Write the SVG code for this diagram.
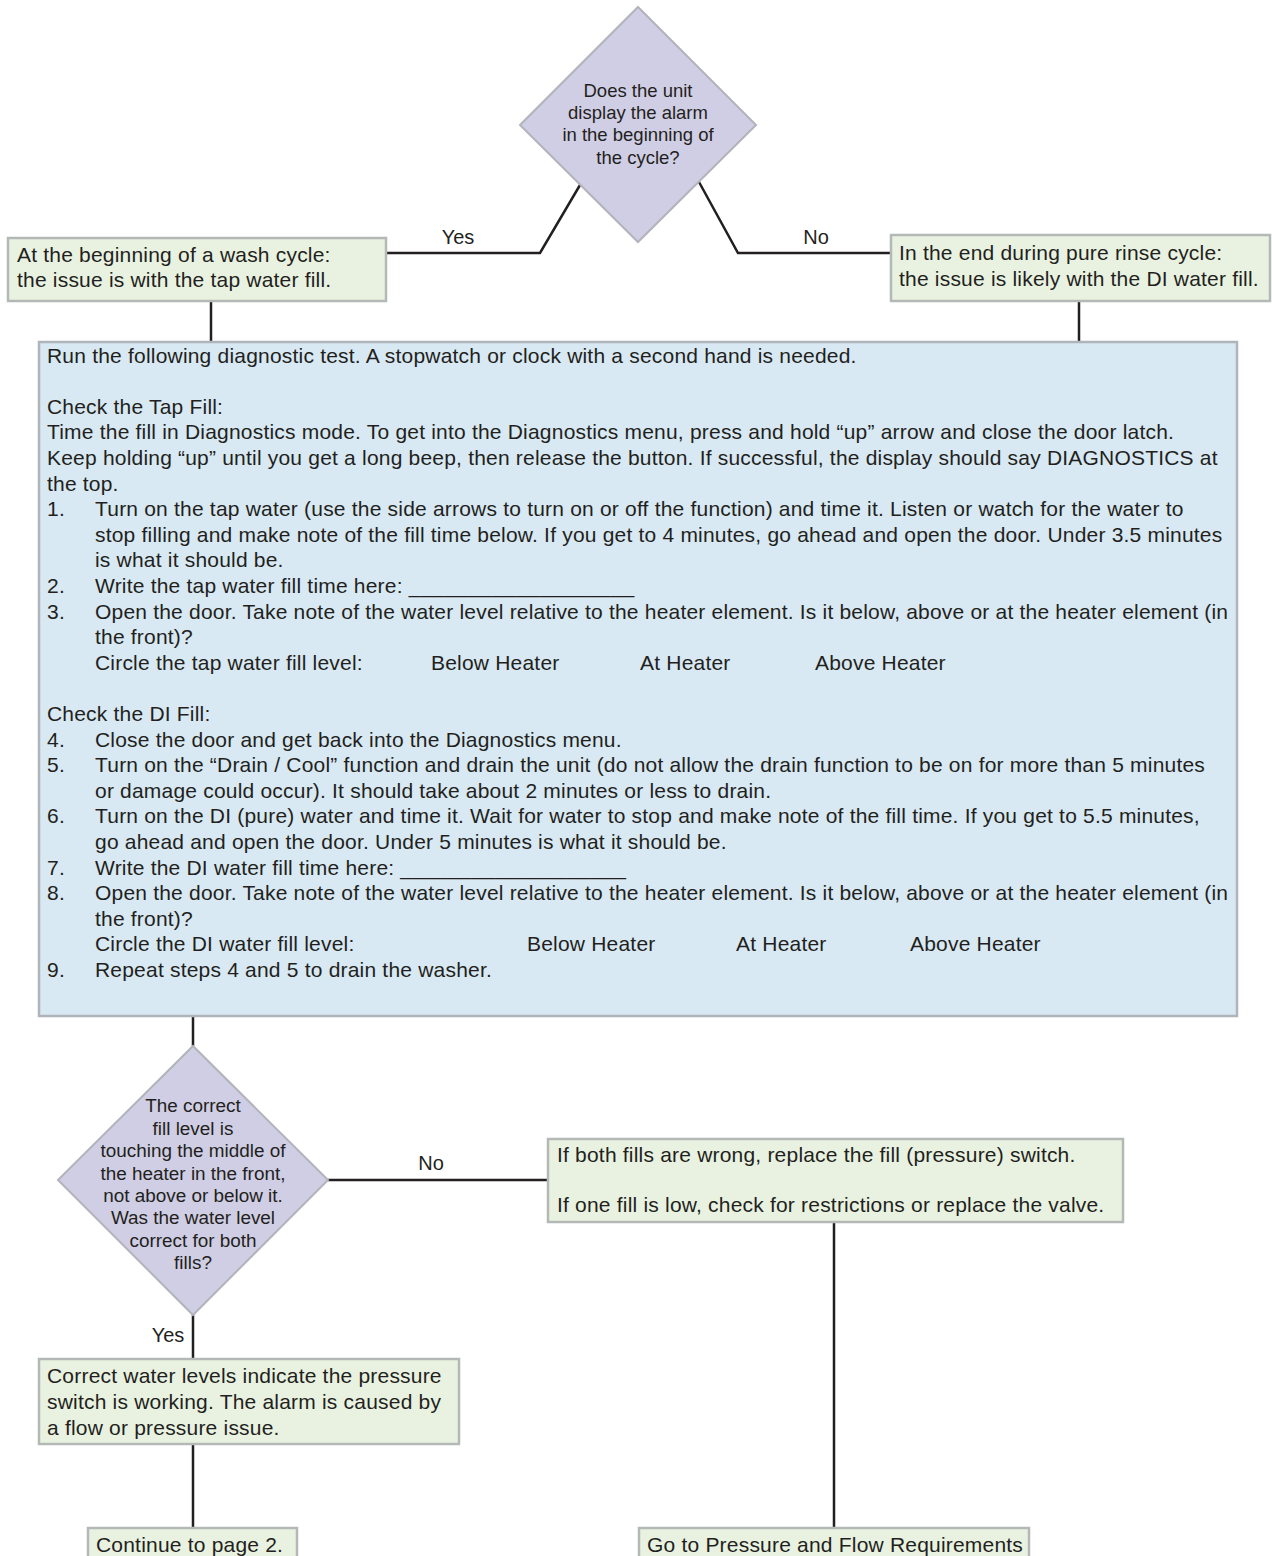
<svg xmlns="http://www.w3.org/2000/svg" width="1272" height="1556" viewBox="0 0 1272 1556">
<style>
.t{font-family:"Liberation Sans",Arial,Helvetica,sans-serif;font-size:21px;letter-spacing:0.2px;fill:#231f20}
.d{font-family:"Liberation Sans",Arial,Helvetica,sans-serif;font-size:18.5px;fill:#231f20;text-anchor:middle}
.d2{font-family:"Liberation Sans",Arial,Helvetica,sans-serif;font-size:18.9px;fill:#231f20;text-anchor:middle}
.lbl{font-family:"Liberation Sans",Arial,Helvetica,sans-serif;font-size:20px;fill:#231f20;text-anchor:middle}
.g{fill:#e9f2e1;stroke:#b4b8b6;stroke-width:2.5}
.b{fill:#d8e9f3;stroke:#b0b4bb;stroke-width:2.5}
.dm{fill:#d0cee4;stroke:#b3b3bb;stroke-width:2}
.c{fill:none;stroke:#231f20;stroke-width:2.5}
</style>
<rect width="1272" height="1556" fill="#ffffff"/>
<g id="connectors">
<polyline class="c" points="386,253 540,253 580,185"/>
<polyline class="c" points="699,182 738,253 891,253"/>
<line class="c" x1="211" y1="301" x2="211" y2="342"/>
<line class="c" x1="1079" y1="301" x2="1079" y2="342"/>
<line class="c" x1="193" y1="1016" x2="193" y2="1046"/>
<line class="c" x1="328" y1="1180" x2="548" y2="1180"/>
<line class="c" x1="193" y1="1315" x2="193" y2="1359"/>
<line class="c" x1="193" y1="1444" x2="193" y2="1528"/>
<line class="c" x1="834" y1="1222" x2="834" y2="1528"/>
<text class="lbl" x="458" y="244">Yes</text>
<text class="lbl" x="816" y="244">No</text>
<text class="lbl" x="431" y="1170">No</text>
<text class="lbl" x="168" y="1342">Yes</text>
</g>
<g id="q1">
<polygon class="dm" points="638,7 756,125 638,242 520,125"/>
<text class="d" x="638" y="96.5">Does the unit</text>
<text class="d" x="638" y="119">display the alarm</text>
<text class="d" x="638" y="141.4">in the beginning of</text>
<text class="d" x="638" y="163.8">the cycle?</text>
</g>
<g id="tap">
<rect class="g" x="8" y="238" width="378" height="63"/>
<text class="t" x="17" y="261.5">At the beginning of a wash cycle:</text>
<text class="t" x="17" y="287">the issue is with the tap water fill.</text>
</g>
<g id="di">
<rect class="g" x="891" y="235" width="379" height="66"/>
<text class="t" x="899" y="260">In the end during pure rinse cycle:</text>
<text class="t" x="899" y="286">the issue is likely with the DI water fill.</text>
</g>
<g id="test">
<rect class="b" x="39" y="342" width="1198" height="674"/>
<text class="t" x="47" y="362.5">Run the following diagnostic test. A stopwatch or clock with a second hand is needed.</text>
<text class="t" x="47" y="413.7">Check the Tap Fill:</text>
<text class="t" x="47" y="439.3">Time the fill in Diagnostics mode. To get into the Diagnostics menu, press and hold “up” arrow and close the door latch.</text>
<text class="t" x="47" y="464.9">Keep holding “up” until you get a long beep, then release the button. If successful, the display should say DIAGNOSTICS at</text>
<text class="t" x="47" y="490.5">the top.</text>
<text class="t" x="47" y="516.1">1.</text>
<text class="t" x="95" y="516.1">Turn on the tap water (use the side arrows to turn on or off the function) and time it. Listen or watch for the water to</text>
<text class="t" x="95" y="541.7">stop filling and make note of the fill time below. If you get to 4 minutes, go ahead and open the door. Under 3.5 minutes</text>
<text class="t" x="95" y="567.3">is what it should be.</text>
<text class="t" x="47" y="592.9">2.</text>
<text class="t" x="95" y="592.9">Write the tap water fill time here: ___________________</text>
<text class="t" x="47" y="618.5">3.</text>
<text class="t" x="95" y="618.5">Open the door. Take note of the water level relative to the heater element. Is it below, above or at the heater element (in</text>
<text class="t" x="95" y="644.1">the front)?</text>
<text class="t" x="95" y="669.7">Circle the tap water fill level:</text>
<text class="t" x="431" y="669.7">Below Heater</text>
<text class="t" x="640" y="669.7">At Heater</text>
<text class="t" x="815" y="669.7">Above Heater</text>
<text class="t" x="47" y="720.9">Check the DI Fill:</text>
<text class="t" x="47" y="746.5">4.</text>
<text class="t" x="95" y="746.5">Close the door and get back into the Diagnostics menu.</text>
<text class="t" x="47" y="772.1">5.</text>
<text class="t" x="95" y="772.1">Turn on the “Drain / Cool” function and drain the unit (do not allow the drain function to be on for more than 5 minutes</text>
<text class="t" x="95" y="797.7">or damage could occur). It should take about 2 minutes or less to drain.</text>
<text class="t" x="47" y="823.3">6.</text>
<text class="t" x="95" y="823.3">Turn on the DI (pure) water and time it. Wait for water to stop and make note of the fill time. If you get to 5.5 minutes,</text>
<text class="t" x="95" y="848.9">go ahead and open the door. Under 5 minutes is what it should be.</text>
<text class="t" x="47" y="874.5">7.</text>
<text class="t" x="95" y="874.5">Write the DI water fill time here: ___________________</text>
<text class="t" x="47" y="900.1">8.</text>
<text class="t" x="95" y="900.1">Open the door. Take note of the water level relative to the heater element. Is it below, above or at the heater element (in</text>
<text class="t" x="95" y="925.7">the front)?</text>
<text class="t" x="95" y="951.3">Circle the DI water fill level:</text>
<text class="t" x="527" y="951.3">Below Heater</text>
<text class="t" x="736" y="951.3">At Heater</text>
<text class="t" x="910" y="951.3">Above Heater</text>
<text class="t" x="47" y="976.9">9.</text>
<text class="t" x="95" y="976.9">Repeat steps 4 and 5 to drain the washer.</text>
</g>
<g id="q2">
<polygon class="dm" points="193,1046 328,1180 193,1315 58,1180"/>
<text class="d2" x="193" y="1112.3">The correct</text>
<text class="d2" x="193" y="1134.7">fill level is</text>
<text class="d2" x="193" y="1157.1">touching the middle of</text>
<text class="d2" x="193" y="1179.5">the heater in the front,</text>
<text class="d2" x="193" y="1201.9">not above or below it.</text>
<text class="d2" x="193" y="1224.3">Was the water level</text>
<text class="d2" x="193" y="1246.7">correct for both</text>
<text class="d2" x="193" y="1269.1">fills?</text>
</g>
<g id="fix">
<rect class="g" x="548" y="1139" width="575" height="83"/>
<text class="t" x="557" y="1162">If both fills are wrong, replace the fill (pressure) switch.</text>
<text class="t" x="557" y="1212">If one fill is low, check for restrictions or replace the valve.</text>
</g>
<g id="ok">
<rect class="g" x="39" y="1359" width="420" height="85"/>
<text class="t" x="47" y="1383">Correct water levels indicate the pressure</text>
<text class="t" x="47" y="1409">switch is working. The alarm is caused by</text>
<text class="t" x="47" y="1435">a flow or pressure issue.</text>
</g>
<g id="page2">
<rect class="g" x="88" y="1528" width="209" height="40"/>
<text class="t" x="96" y="1552">Continue to page 2.</text>
</g>
<g id="req">
<rect class="g" x="639" y="1528" width="390" height="40"/>
<text class="t" x="647" y="1552">Go to Pressure and Flow Requirements</text>
</g>
</svg>
